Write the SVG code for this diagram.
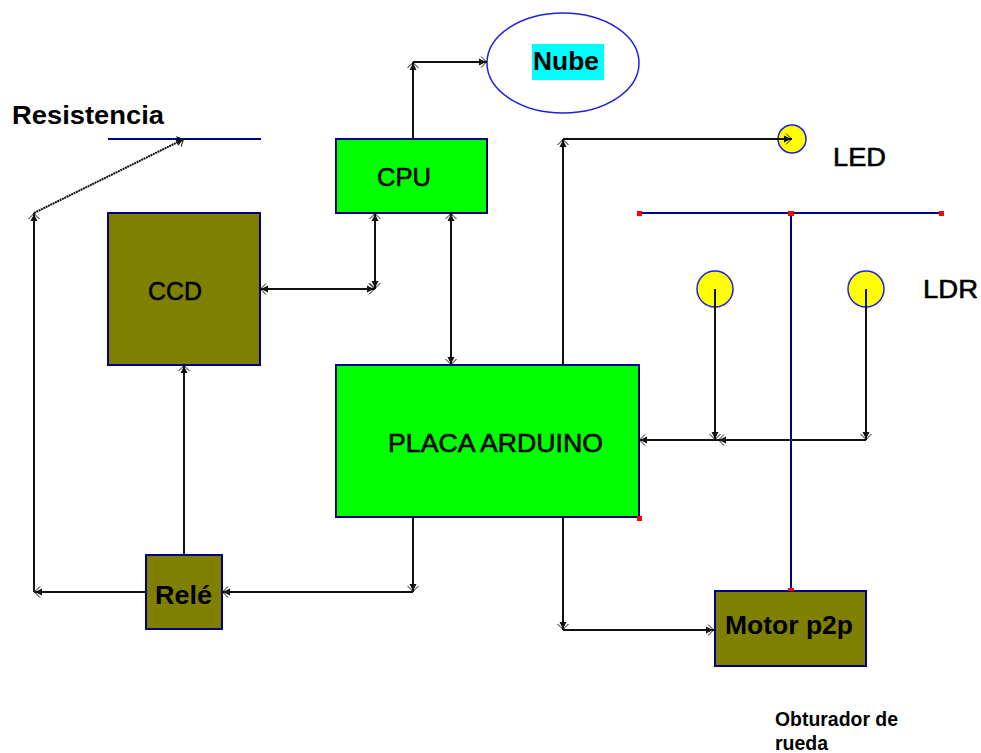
<svg xmlns="http://www.w3.org/2000/svg" width="981" height="753" viewBox="0 0 981 753">
<style>
.box{stroke:#000080;stroke-width:2}
.green{fill:#00ff00}
.olive{fill:#808000}
.yellow{fill:#ffff00;stroke:#2020e0;stroke-width:1.5}
.wire{fill:none;stroke:#000080;stroke-width:2}
.c{fill:none;stroke:#111;stroke-width:2}
.h{fill:#f00}
text{font-family:"Liberation Sans",Arial,sans-serif;fill:#000;font-size:26px;font-weight:400;stroke:#000;stroke-width:.6}
.b{font-weight:700;stroke-width:0}
.s{font-size:20px}
</style>
<defs>
<marker id="a" markerUnits="userSpaceOnUse" markerWidth="16" markerHeight="16" refX="11" refY="8" orient="auto-start-reverse" viewBox="0 0 16 16">
<path d="M5 2.500 L10.500 8 L5 13.500" fill="none" stroke="#111" stroke-width="1"/>
<path d="M3 4.500 L10 8 L3 11.500Z" fill="#111"/>
</marker>
</defs>
<g id="resistencia"><line class="wire" x1="108" y1="139" x2="261" y2="139"/><text x="12" y="124" textLength="152" lengthAdjust="spacingAndGlyphs" class="b">Resistencia</text></g>
<g id="nube"><ellipse cx="563" cy="63" rx="76" ry="50" fill="#fff" stroke="#2020e0" stroke-width="1.500"/><rect x="532" y="44" width="72" height="36" fill="#00ffff"/><text class="b" x="533" y="70" textLength="66" lengthAdjust="spacingAndGlyphs">Nube</text></g>
<g id="cpu"><rect class="box green" x="336" y="139" width="151" height="74"/><text x="377" y="186" textLength="54" lengthAdjust="spacingAndGlyphs">CPU</text></g>
<g id="ccd"><rect class="box olive" x="108" y="213" width="152" height="152"/><text x="148" y="300" textLength="54" lengthAdjust="spacingAndGlyphs">CCD</text></g>
<g id="placa"><rect class="box green" x="336" y="365" width="303" height="152"/><text x="388" y="452" textLength="215" lengthAdjust="spacingAndGlyphs">PLACA ARDUINO</text><rect class="h" x="637" y="516" width="5" height="5"/></g>
<g id="rele"><rect class="box olive" x="146" y="555" width="76" height="74"/><text x="155" y="604" textLength="57" lengthAdjust="spacingAndGlyphs" class="b">Relé</text></g>
<g id="motor"><rect class="box olive" x="715" y="591" width="151" height="75"/><text x="725" y="634" textLength="128" lengthAdjust="spacingAndGlyphs" class="b">Motor p2p</text></g>
<g id="led"><circle class="yellow" cx="792" cy="139" r="14"/><text x="833" y="166" textLength="53" lengthAdjust="spacingAndGlyphs">LED</text></g>
<g id="ldr1"><circle class="yellow" cx="715" cy="289" r="18"/></g>
<g id="ldr2"><circle class="yellow" cx="866" cy="289" r="18"/><text x="923" y="298" textLength="55" lengthAdjust="spacingAndGlyphs">LDR</text></g>
<g id="obturador"><line class="wire" x1="639" y1="213" x2="942" y2="213"/><line class="wire" x1="791" y1="213" x2="791" y2="591"/><rect class="h" x="637" y="211" width="5" height="5"/><rect class="h" x="788" y="211" width="6" height="5"/><rect class="h" x="939" y="211" width="5" height="5"/><rect class="h" x="788" y="588" width="6" height="3"/><text class="b s" x="775" y="726" textLength="123" lengthAdjust="spacingAndGlyphs">Obturador de</text><text class="b s" x="775" y="750" textLength="53" lengthAdjust="spacingAndGlyphs">rueda</text></g>
<g id="connectors">
<path class="c" d="M413 139V62" marker-end="url(#a)"/><path class="c" d="M413 62H487" marker-end="url(#a)"/>
<path class="c" d="M34 592V213" marker-end="url(#a)"/><path class="c" d="M34 213L184 139" marker-end="url(#a)" stroke-dasharray="2 0.600"/>
<path class="c" d="M146 592H34" marker-end="url(#a)"/>
<path class="c" d="M184 554V365" marker-end="url(#a)"/>
<path class="c" d="M413 517V592" marker-end="url(#a)"/><path class="c" d="M413 592H222" marker-end="url(#a)"/>
<path class="c" d="M260 289H375" marker-start="url(#a)" marker-end="url(#a)"/>
<path class="c" d="M375 213V289" marker-start="url(#a)" marker-end="url(#a)"/>
<path class="c" d="M451 213V365" marker-start="url(#a)" marker-end="url(#a)"/>
<path class="c" d="M563 365V139" marker-end="url(#a)"/><path class="c" d="M563 139H792" marker-end="url(#a)"/>
<path class="c" d="M715 289V440" marker-end="url(#a)"/><path class="c" d="M866 289V440" marker-end="url(#a)"/>
<path class="c" d="M866 440H718" marker-end="url(#a)"/><path class="c" d="M718 440H639" marker-end="url(#a)"/>
<path class="c" d="M563 517V630" marker-end="url(#a)"/><path class="c" d="M563 630H714" marker-end="url(#a)"/>
</g>
</svg>
